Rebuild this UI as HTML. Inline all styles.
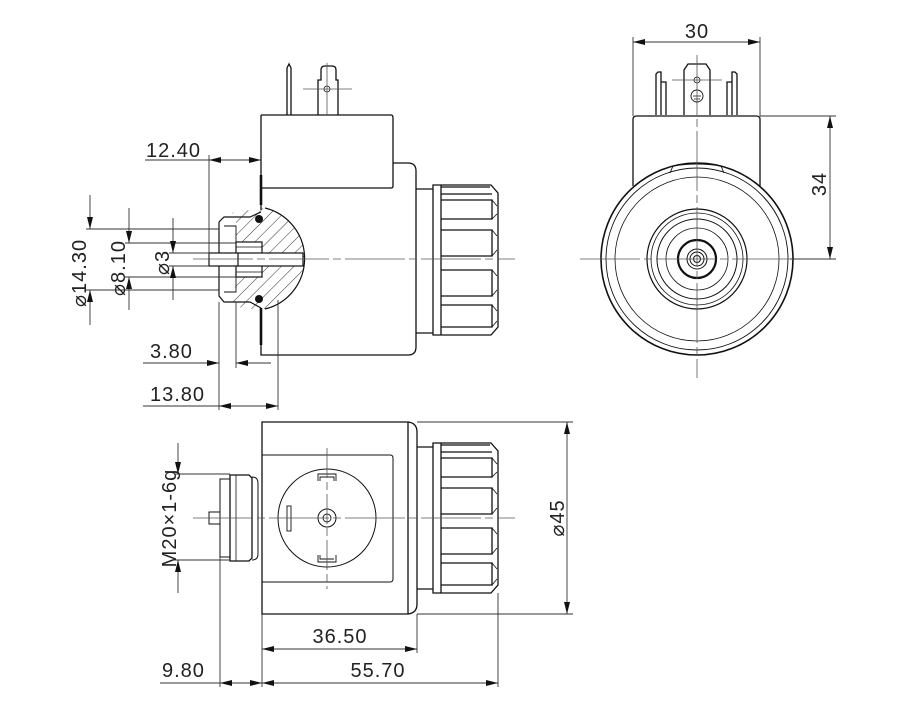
<!DOCTYPE html>
<html><head><meta charset="utf-8"><style>
html,body{margin:0;padding:0;background:#fff;}
svg{display:block;}
text{font-family:"Liberation Sans",sans-serif;font-size:20px;letter-spacing:1px;fill:#222;}
</style></head><body>
<svg width="900" height="711" viewBox="0 0 900 711" xmlns="http://www.w3.org/2000/svg">
<defs>
<marker id="a" viewBox="0 0 12 6" refX="12" refY="3" markerWidth="12" markerHeight="6" markerUnits="userSpaceOnUse" orient="auto-start-reverse"><path d="M0,0 L12,3 L0,6z" fill="#111"/></marker>
<pattern id="h" patternUnits="userSpaceOnUse" width="9" height="9" patternTransform="rotate(45)"><line x1="0" y1="0" x2="0" y2="9" stroke="#333" stroke-width="1"/></pattern>
<g id="nut" fill="none" stroke="#111" stroke-width="1.3">
<path d="M433,185 H491 L498,193 V327 L491,335 H433 Z"/>
<line x1="441" y1="185" x2="441" y2="335"/>
<path d="M441,187 H490 M441,194 H492"/>
<path d="M441,200 H492 V219 H441"/>
<path d="M441,230 H492 V256 H441"/>
<path d="M441,270 H492 V296 H441"/>
<path d="M441,305 H492 V327 H441"/>
<path d="M492,200 L497,206 M492,219 L497,214 M492,230 L497,236 M492,256 L497,250 M492,270 L497,276 M492,296 L497,290 M492,305 L497,311 M492,327 L497,321" stroke-width="0.8"/>
</g>
</defs>

<!-- ===== Top-left view ===== -->
<g fill="none" stroke="#111" stroke-width="1.3">
<path d="M287,115 V68 L289,64 L291,68 V115"/>
<path d="M318,115 V80 H321 V70 Q321,66 325,66 H332 Q336,66 336,70 V80 H338 V115"/>
<circle cx="327" cy="89" r="3" stroke-width="0.8"/>
<path d="M261,115 H391 Q393,115 393,118 V186 Q393,188 391,188 H261"/>
<path d="M393,163 H408 Q416,163 416,171 V347 Q416,355 408,355 H261 V308"/>
<path d="M261,115 V210" />
<line x1="261" y1="175" x2="261" y2="205" stroke-width="2.6"/>
<line x1="261" y1="308" x2="261" y2="345" stroke-width="2.6"/>
<path d="M416,189 H433 M416,333 H433"/>
</g>
<use href="#nut"/>
<path d="M265,208 A52,52 0 0 1 265,309 L243,309 L232,302 L235,290 L236,216 L232,213 L235,212 Z" fill="url(#h)"/>
<g fill="none" stroke="#111" stroke-width="1.2">
<path d="M265,208 A52,52 0 0 1 265,309"/>
<path d="M219,222 L224,217 H250 L261,212 M219,222 V296 L224,302 H250 L261,308"/>
<path d="M224,226 H236 V292 H224" stroke-width="0.9"/>
<rect x="236" y="242" width="26" height="35" fill="#fff"/>
<path d="M236,247 H262 M236,272 H262" stroke-width="0.8"/>
<rect x="209" y="253" width="94" height="13" fill="#fff"/>
<line x1="238" y1="253" x2="238" y2="266"/>
</g>
<circle cx="259" cy="219" r="4" fill="#111"/>
<circle cx="259" cy="299" r="4" fill="#111"/>
<g stroke="#555" stroke-width="0.8" fill="none">
<line x1="193" y1="259" x2="515" y2="259" stroke-dasharray="60,4,8,4"/>
<line x1="327" y1="63" x2="327" y2="115"/>
<line x1="303" y1="89" x2="352" y2="89"/>
</g>
<g stroke="#333" stroke-width="0.9" fill="none">
<line x1="145" y1="160" x2="209" y2="160"/>
<line x1="209" y1="160" x2="261" y2="160" marker-start="url(#a)" marker-end="url(#a)"/>
<line x1="209" y1="155" x2="209" y2="258"/>
<line x1="90" y1="195" x2="90" y2="229" marker-end="url(#a)"/>
<line x1="90" y1="325" x2="90" y2="290" marker-end="url(#a)"/>
<line x1="86" y1="229" x2="219" y2="229"/>
<line x1="86" y1="290" x2="219" y2="290"/>
<line x1="129" y1="208" x2="129" y2="243" marker-end="url(#a)"/>
<line x1="129" y1="310" x2="129" y2="277" marker-end="url(#a)"/>
<line x1="125" y1="243" x2="236" y2="243"/>
<line x1="125" y1="277" x2="236" y2="277"/>
<line x1="173" y1="218" x2="173" y2="253" marker-end="url(#a)"/>
<line x1="173" y1="300" x2="173" y2="266" marker-end="url(#a)"/>
<line x1="169" y1="253" x2="209" y2="253"/>
<line x1="169" y1="266" x2="209" y2="266"/>
<line x1="143" y1="363" x2="219" y2="363" marker-end="url(#a)"/>
<line x1="271" y1="363" x2="236" y2="363" marker-end="url(#a)"/>
<line x1="219" y1="302" x2="219" y2="410"/>
<line x1="236" y1="302" x2="236" y2="368"/>
<line x1="143" y1="406" x2="219" y2="406"/>
<line x1="219" y1="406" x2="278" y2="406" marker-start="url(#a)" marker-end="url(#a)"/>
<line x1="278" y1="300" x2="278" y2="410"/>
</g>
<text x="146" y="157">12.40</text>
<text x="150" y="358">3.80</text>
<text x="150" y="401">13.80</text>
<text transform="translate(86,307) rotate(-90)">⌀14.30</text>
<text transform="translate(125,296) rotate(-90)">⌀8.10</text>
<text transform="translate(169,275) rotate(-90)">⌀3</text>

<!-- ===== Right view ===== -->
<g fill="none" stroke="#111" stroke-width="1.3">
<path d="M633,186 V119 Q633,116 637,116 H756 Q760,116 760,119 V186"/>
<path d="M656,115 V74 L658,72 H661 V115 M661,82 H666 V115"/>
<path d="M737,115 V74 L735,72 H732 V115 M732,82 H727 V115"/>
<path d="M684,115 V70 L688,64 H706 L710,70 V115"/>
<circle cx="697" cy="80" r="3" stroke-width="0.8"/>
<circle cx="697" cy="96" r="6" stroke-width="0.9"/>
<path d="M693,96 H701 M694,99 H700 M695.5,102 H698.5" stroke-width="0.8"/>
<circle cx="697" cy="259" r="96" stroke-width="1.6"/>
<circle cx="697" cy="259" r="91" stroke-width="0.9"/>
<circle cx="697" cy="259" r="82" stroke-width="0.8"/>
<path d="M670,173 L673,166 Q697,162 721,166 L724,173" stroke-width="0.9"/>
<circle cx="697" cy="259" r="50" stroke-width="1.2"/>
<circle cx="697" cy="259" r="46" stroke-width="0.8"/>
<circle cx="697" cy="259" r="40" stroke-width="1"/>
<circle cx="697" cy="259" r="31" stroke-width="0.8"/>
<circle cx="697" cy="259" r="19" stroke-width="2.2"/>
<circle cx="697" cy="259" r="10" stroke-width="1"/>
<circle cx="697" cy="259" r="7" stroke-width="1"/>
<circle cx="697" cy="259" r="3.5" stroke-width="1"/>
</g>
<g stroke="#555" stroke-width="0.8" fill="none" stroke-dasharray="60,4,8,4">
<line x1="580" y1="259" x2="812" y2="259"/>
<line x1="697" y1="55" x2="697" y2="378"/>
</g>
<line x1="672" y1="80" x2="722" y2="80" stroke="#555" stroke-width="0.8"/>
<g stroke="#333" stroke-width="0.9" fill="none">
<line x1="633" y1="42" x2="760" y2="42" marker-start="url(#a)" marker-end="url(#a)"/>
<line x1="633" y1="37" x2="633" y2="116"/>
<line x1="760" y1="37" x2="760" y2="116"/>
<line x1="830" y1="116" x2="830" y2="259" marker-start="url(#a)" marker-end="url(#a)"/>
<line x1="760" y1="116" x2="836" y2="116"/>
<line x1="790" y1="259" x2="836" y2="259"/>
</g>
<text x="697" y="38" text-anchor="middle">30</text>
<text transform="translate(826,184) rotate(-90)" text-anchor="middle">34</text>

<!-- ===== Bottom view ===== -->
<g fill="none" stroke="#111" stroke-width="1.3">
<path d="M262,422 H408 V614 H262 Z"/>
<path d="M408,422 Q417,423 417,432 V604 Q417,613 408,614"/>
<path d="M262,455 H390 Q393,455 393,458 V579 Q393,582 390,582 H262" stroke-width="1"/>
<path d="M417,447 H433 M417,589 H433"/>
<circle cx="327" cy="518" r="49" stroke-width="1"/>
<circle cx="327" cy="518" r="9" stroke-width="1"/>
<circle cx="327" cy="518" r="4" stroke-width="0.9"/>
<path d="M318,481 V474 H336 V481 M320,481 V477 H334 V481" stroke-width="0.9"/>
<path d="M318,555 V562 H336 V555 M320,555 V559 H334 V559" stroke-width="0.9"/>
<rect x="287" y="506" width="4" height="25" stroke-width="0.9"/>
<rect x="220" y="479" width="10" height="78" stroke-width="1"/>
<path d="M230,475 H249 L252,478 V558 L249,561 H230 Z"/>
<path d="M236,475 V561" stroke-width="0.8"/>
<path d="M252,477 Q258,477 258,483 V554 Q258,560 252,560" stroke-width="1"/>
<rect x="209" y="512" width="11" height="12" stroke-width="1"/>
</g>
<use href="#nut" transform="translate(0,258)"/>
<g stroke="#555" stroke-width="0.8" fill="none">
<line x1="193" y1="518" x2="515" y2="518" stroke-dasharray="60,4,8,4"/>
<line x1="327" y1="448" x2="327" y2="589" stroke-dasharray="30,4,8,4"/>
</g>
<g stroke="#333" stroke-width="0.9" fill="none">
<line x1="567" y1="422" x2="567" y2="614" marker-start="url(#a)" marker-end="url(#a)"/>
<line x1="417" y1="422" x2="573" y2="422"/>
<line x1="417" y1="614" x2="573" y2="614"/>
<line x1="178" y1="443" x2="178" y2="474" marker-end="url(#a)"/>
<line x1="178" y1="593" x2="178" y2="560" marker-end="url(#a)"/>
<line x1="174" y1="474" x2="230" y2="474"/>
<line x1="174" y1="560" x2="230" y2="560"/>
<line x1="262" y1="649" x2="417" y2="649" marker-start="url(#a)" marker-end="url(#a)"/>
<line x1="160" y1="683" x2="220" y2="683"/>
<line x1="220" y1="683" x2="262" y2="683" marker-start="url(#a)" marker-end="url(#a)"/>
<line x1="262" y1="683" x2="498" y2="683" marker-start="url(#a)" marker-end="url(#a)"/>
<line x1="220" y1="557" x2="220" y2="687"/>
<line x1="262" y1="614" x2="262" y2="687"/>
<line x1="417" y1="614" x2="417" y2="653"/>
<line x1="498" y1="593" x2="498" y2="687"/>
</g>
<text x="340" y="643" text-anchor="middle">36.50</text>
<text x="162" y="677">9.80</text>
<text x="378" y="677" text-anchor="middle">55.70</text>
<text transform="translate(176,518) rotate(-90)" text-anchor="middle">M20×1-6g</text>
<text transform="translate(564,518) rotate(-90)" text-anchor="middle">⌀45</text>
</svg>
</body></html>
